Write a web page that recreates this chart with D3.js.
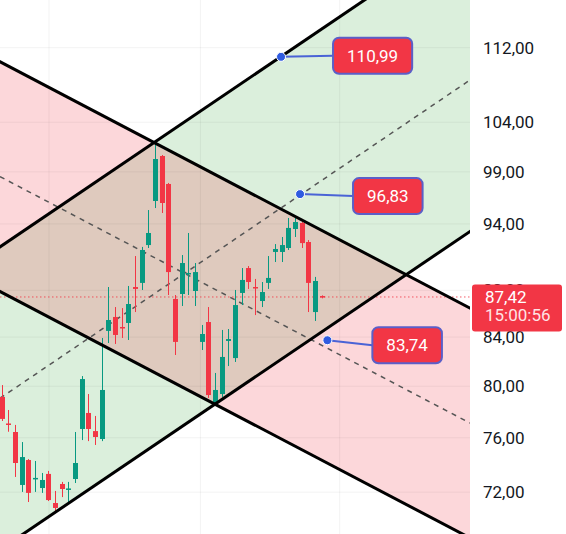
<!DOCTYPE html>
<html><head><meta charset="utf-8">
<script src="https://cdn.jsdelivr.net/npm/d3@7"></script>
<style>html,body{margin:0;padding:0;background:#fff;overflow:hidden}svg{display:block}</style>
</head><body><svg id="c" width="566" height="534"></svg>
<script>
// ---- data ----
const openP  = [79.15,77.09,76.44,72.52,74.34,72.95,72.30,73.32,71.23,72.59,72.16,72.95,76.67,77.90,76.51,75.91,84.52,85.70,84.85,85.19,88.29,88.65,92.05,96.17,100.57,97.81,87.25,87.68,89.44,87.94,83.60,85.27,78.68,79.38,83.68,82.27,87.77,89.97,88.29,87.07,88.65,91.42,91.42,91.78,93.53,94.09,92.33,86.12,87.50];
const highP  = [80.09,78.13,76.98,75.68,74.41,74.27,73.39,73.54,72.09,72.74,72.74,76.44,80.81,79.38,77.67,83.93,88.29,86.55,86.46,88.38,91.05,91.88,95.31,101.88,100.67,97.91,87.59,91.14,93.16,90.42,85.02,86.55,81.06,84.60,84.68,88.03,89.97,90.15,89.00,88.73,91.05,92.14,92.79,94.56,94.56,94.18,92.51,89.18,87.56];
const lowP   = [77.28,76.46,73.10,72.02,71.30,72.02,71.95,71.37,70.60,71.65,71.30,72.66,75.83,75.75,75.46,75.75,83.51,83.43,83.93,83.76,86.12,88.03,91.78,95.50,95.03,87.59,82.52,86.64,87.59,86.64,82.93,79.07,78.52,79.15,81.62,81.95,86.72,88.12,85.86,86.55,88.12,90.51,90.51,91.60,92.79,91.78,86.12,85.36,87.30];
const closeP = [77.44,77.01,74.12,74.56,71.95,73.03,72.88,71.44,70.88,72.23,72.27,74.12,80.57,76.67,76.06,79.70,85.44,84.18,84.77,86.81,88.12,91.60,93.16,100.27,95.98,89.61,83.60,90.42,89.53,89.61,84.26,79.30,79.70,82.36,83.84,86.72,88.91,88.73,88.21,87.85,89.09,91.69,92.05,93.63,94.18,92.23,88.65,88.82,87.42];

const priceTicks = [112,104,99,94,88,84,80,76,72];
const tickLabels = ["112,00","104,00","99,00","94,00","88,00","84,00","80,00","76,00","72,00"];
const timeGridIdx = [7.1,29.8,50.7];

// channel anchors: [candle index, price]
const riseUpper = [[0,91.99],[48,114.10]];
const riseLower = [[0,68.08],[48,84.44]];
const fallUpper = [[0,110.35],[48,93.40]];
const fallLower = [[0,87.82],[48,74.33]];

const markerIdx    = [41.9,44.75,48.85];
const markerPrice  = [110.99,96.83,83.74];
const markerLabels = ["110,99","96,83","83,74"];

const lastPrice = 87.42, lastLabel = "87,42", lastTime = "15:00:56";

// ---- layout ----
const W = 566, H = 534, plotW = 470;
const labelOffsets = [[52,-1],[53,2],[45,5]];
const GREEN = "#089981", RED = "#f23645";

const svg = d3.select("#c");
const x = d3.scaleLinear().domain([0,48]).range([1.7,321.7]);
const y = d3.scaleLog().domain([112,72]).range([47.7,492.2]);

svg.append("defs").append("clipPath").attr("id","plot")
  .append("rect").attr("x",0).attr("y",0).attr("width",plotW).attr("height",H);
const plot = svg.append("g").attr("clip-path","url(#plot)");

function lineFn(a){
  const x1=x(a[0][0]), y1=y(a[0][1]), x2=x(a[1][0]), y2=y(a[1][1]);
  const m=(y2-y1)/(x2-x1);
  return px => y1 + m*(px-x1);
}
const fRU=lineFn(riseUpper), fRL=lineFn(riseLower), fFU=lineFn(fallUpper), fFL=lineFn(fallLower);
const X0=-30, X1=plotW+30;
function band(fa,fb){ return [[X0,fa(X0)],[X1,fa(X1)],[X1,fb(X1)],[X0,fb(X0)]]; }

plot.append("polygon").attr("points",band(fRU,fRL).join(" ")).attr("fill","rgba(76,175,80,0.2)");
plot.append("polygon").attr("points",band(fFU,fFL).join(" ")).attr("fill","rgba(242,54,69,0.2)");

// grid
plot.append("g").selectAll("line").data(priceTicks).join("line")
  .attr("x1",0).attr("x2",plotW).attr("y1",d=>y(d)).attr("y2",d=>y(d))
  .attr("stroke","rgba(0,0,0,0.05)");
plot.append("g").selectAll("line").data(timeGridIdx).join("line")
  .attr("x1",d=>x(d)).attr("x2",d=>x(d)).attr("y1",0).attr("y2",H)
  .attr("stroke","rgba(0,0,0,0.05)");

// dashed midlines
const mids = [p=>(fRU(p)+fRL(p))/2, p=>(fFU(p)+fFL(p))/2];
plot.append("g").selectAll("line").data(mids).join("line")
  .attr("x1",0).attr("x2",plotW).attr("y1",f=>f(0)).attr("y2",f=>f(plotW))
  .attr("stroke","#555").attr("stroke-width",1.5).attr("stroke-dasharray","5,5");

// price line
plot.append("line").attr("x1",0).attr("x2",plotW).attr("y1",y(lastPrice)).attr("y2",y(lastPrice))
  .attr("stroke",RED).attr("stroke-width",1).attr("stroke-dasharray","1.5,2.5").attr("opacity",0.8);

// candles
const idx = d3.range(openP.length);
const cg = plot.append("g");
cg.selectAll("line").data(idx).join("line")
  .attr("x1",i=>Math.round(x(i))+0.5).attr("x2",i=>Math.round(x(i))+0.5)
  .attr("y1",i=>y(highP[i])).attr("y2",i=>y(lowP[i]))
  .attr("stroke",i=>closeP[i]>=openP[i]?GREEN:RED).attr("stroke-width",1);
cg.selectAll("rect").data(idx).join("rect")
  .attr("x",i=>Math.round(x(i))-2).attr("width",5)
  .attr("y",i=>y(Math.max(openP[i],closeP[i])))
  .attr("height",i=>Math.max(1.5,Math.abs(y(openP[i])-y(closeP[i]))))
  .attr("fill",i=>closeP[i]>=openP[i]?GREEN:RED);

// channel border lines
plot.append("g").selectAll("line").data([fRU,fRL,fFU,fFL]).join("line")
  .attr("x1",X0).attr("x2",X1).attr("y1",f=>f(X0)).attr("y2",f=>f(X1))
  .attr("stroke","#000").attr("stroke-width",3);

// axis
const ax = svg.append("g").attr("transform",`translate(${plotW},0)`)
  .call(d3.axisRight(y).tickValues(priceTicks).tickFormat((d,i)=>tickLabels[i]).tickSize(0).tickPadding(13));
ax.select(".domain").remove();
ax.selectAll("text").attr("font-family","Roboto, sans-serif").attr("font-size",17).attr("fill","#131722");

// last price box
const ly = y(lastPrice);
svg.append("rect").attr("x",472).attr("y",ly-12.5).attr("width",90).attr("height",47).attr("rx",3).attr("fill",RED);
svg.append("text").attr("x",485).attr("y",ly+6.5).text(lastLabel)
  .attr("font-family","Roboto, sans-serif").attr("font-size",17).attr("fill","#fff");
svg.append("text").attr("x",485).attr("y",ly+24.5).text(lastTime)
  .attr("font-family","Roboto, sans-serif").attr("font-size",17).attr("fill","#ffe4e6");

// markers with labels
const mg = svg.append("g");
markerIdx.forEach((mi,k)=>{
  const px=x(mi), py=y(markerPrice[k]);
  const bx=px+labelOffsets[k][0], by=py+labelOffsets[k][1];
  const t = mg.append("text").text(markerLabels[k]).attr("font-family","Roboto, sans-serif")
    .attr("font-size",17).attr("fill","#fff").attr("text-anchor","middle");
  const tw = t.node().getComputedTextLength();
  const bw = tw+28, bh=36;
  mg.append("line").attr("x1",px).attr("y1",py).attr("x2",bx).attr("y2",by)
    .attr("stroke","#4a63d6").attr("stroke-width",2);
  mg.append("rect").attr("x",bx).attr("y",by-bh/2).attr("width",bw).attr("height",bh)
    .attr("rx",6).attr("fill",RED).attr("stroke","#5b5fc8").attr("stroke-width",2);
  mg.append("circle").attr("cx",px).attr("cy",py).attr("r",4.5)
    .attr("fill","#2f5be0").attr("stroke","#fff").attr("stroke-width",1);
  t.attr("x",bx+bw/2).attr("y",by+6).raise();
});
</script></body></html>
